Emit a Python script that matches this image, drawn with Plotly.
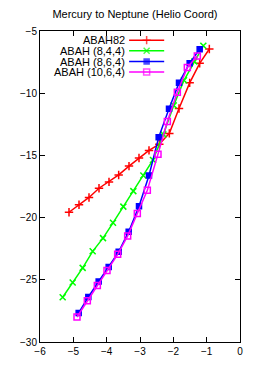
import plotly.graph_objects as go

# ---- data ----
abah82_x = [-5.13, -4.83, -4.53, -4.23, -3.93, -3.64, -3.33, -3.03, -2.73, -2.42, -2.12, -1.83, -1.51, -1.21, -0.92]
abah82_y = [-19.57, -18.97, -18.38, -17.64, -17.13, -16.57, -15.86, -15.21, -14.60, -14.10, -13.23, -11.23, -9.17, -7.60, -6.45]

abah844_x = [-5.32, -5.02, -4.72, -4.42, -4.11, -3.81, -3.50, -3.20, -2.90, -2.61, -2.30, -1.99, -1.68, -1.37, -1.10]
abah844_y = [-26.40, -25.21, -24.04, -22.71, -21.65, -20.42, -19.12, -17.87, -16.62, -15.37, -13.31, -10.98, -8.96, -7.45, -6.19]

abah864_x = [-4.84, -4.55, -4.24, -3.94, -3.64, -3.34, -3.03, -2.73, -2.44, -2.13, -1.83, -1.51, -1.21]
abah864_y = [-27.67, -26.38, -25.14, -23.98, -22.75, -21.13, -19.08, -16.62, -13.55, -11.25, -9.17, -7.59, -6.46]

abah1064_x = [-4.89, -4.58, -4.28, -3.99, -3.67, -3.37, -3.08, -2.78, -2.46, -2.18, -1.88, -1.58, -1.28]
abah1064_y = [-27.99, -26.69, -25.45, -24.26, -22.95, -21.47, -19.67, -17.80, -14.90, -12.28, -9.93, -7.93, -7.00]

series_names = ["ABAH82", "ABAH (8,4,4)", "ABAH (8,6,4)", "ABAH (10,6,4)"]
x_ticks = [-6, -5, -4, -3, -2, -1, 0]
y_ticks = [-5, -10, -15, -20, -25, -30]

styles = [
    dict(color="#ff0000", symbol="cross-thin", size=6),
    dict(color="#00ff00", symbol="x-thin", size=6),
    dict(color="#0000ff", symbol="square", size=5),
    dict(color="#ff00ff", symbol="square-open", size=6),
]
data = [(abah82_x, abah82_y), (abah844_x, abah844_y), (abah864_x, abah864_y), (abah1064_x, abah1064_y)]

fig = go.Figure()
for (xs, ys), st, name in zip(data, styles, series_names):
    fig.add_trace(go.Scatter(
        x=xs, y=ys, mode="lines+markers", name=name, showlegend=False,
        line=dict(color=st["color"], width=1.5),
        marker=dict(symbol=st["symbol"], size=st["size"], color=st["color"],
                    line=dict(color=st["color"], width=1.5)),
    ))

# gnuplot-style key (text right, sample to the right)
key_rows = [0.9706, 0.9367, 0.9019, 0.868]
kx0, kx1 = 0.4455, 0.6209
for st, name, ky in zip(styles, series_names, key_rows):
    fig.add_trace(go.Scatter(
        x=[kx0, (kx0 + kx1) / 2, kx1], y=[ky, ky, ky], xaxis="x2", yaxis="y2",
        mode="lines+markers", showlegend=False, hoverinfo="skip",
        line=dict(color=st["color"], width=1.5),
        marker=dict(symbol=st["symbol"], size=[0, st["size"], 0], color=st["color"],
                    line=dict(color=st["color"], width=1.5)),
    ))
    fig.add_annotation(x=kx0 - 0.012, y=ky, xref="x2", yref="y2", text=name,
                       showarrow=False, xanchor="right", yanchor="middle",
                       font=dict(size=11, color="black"))

# page body has an 8px margin: size the figure so the plot lands where the reference is
fig.update_layout(
    width=258, height=361,
    margin=dict(l=21, r=26, t=23, b=22),
    paper_bgcolor="white", plot_bgcolor="white",
    font=dict(family="Liberation Sans, Arial, sans-serif", size=10, color="black"),
    title=dict(text="Mercury to Neptune (Helio Coord)", x=0.492, xanchor="center",
               y=1 - 6 / 361, yanchor="middle", font=dict(size=11)),
    xaxis=dict(range=[-6, 0], tickvals=x_ticks, ticks="inside", ticklen=5,
               showline=True, linecolor="black", linewidth=1, mirror="ticks",
               showgrid=False, zeroline=False, tickcolor="black"),
    yaxis=dict(range=[-30, -5], tickvals=y_ticks, ticks="inside", ticklen=5,
               showline=True, linecolor="black", linewidth=1, mirror="ticks",
               showgrid=False, zeroline=False, tickcolor="black"),
    xaxis2=dict(range=[0, 1], overlaying="x", visible=False, fixedrange=True),
    yaxis2=dict(range=[0, 1], overlaying="y", visible=False, fixedrange=True),
)

fig.write_html("out.html")
